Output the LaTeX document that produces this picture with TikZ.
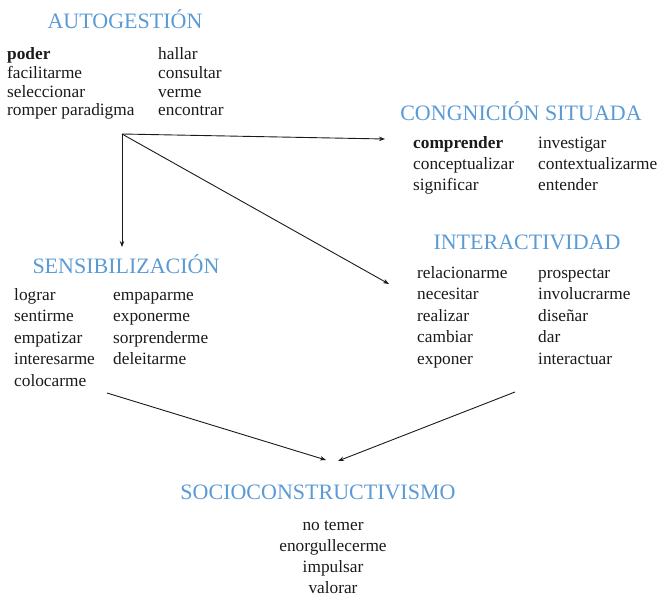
\documentclass[tikz,border=0pt]{standalone}
\usepackage{fontspec}
\setmainfont{Liberation Serif}
\usetikzlibrary{arrows.meta}
\definecolor{ttl}{HTML}{5B9BD5}
\definecolor{ink}{HTML}{1A1A1A}
\tikzset{
  word/.style={font=\fontsize{17.3}{20}\selectfont, text=ink, inner sep=0pt, anchor=base west},
  cword/.style={font=\fontsize{17.3}{20}\selectfont, text=ink, inner sep=0pt, anchor=base},
  title/.style={font=\fontsize{22}{26}\selectfont, text=ttl, inner sep=0pt},
  link/.style={draw=ink, line width=0.9pt, -{Stealth[length=6pt,width=4.5pt]}}
}
\begin{document}
\begin{tikzpicture}[x=1pt,y=-1pt]
\useasboundingbox (0,0) rectangle (664,599);
% titles
\node[title] (tA) at (125,19) {AUTOGESTIÓN};
\node[title] (tC) at (521,111) {CONGNICIÓN SITUADA};
\node[title] (tI) at (527,242) {INTERACTIVIDAD};
\node[title] (tS) at (126,264) {SENSIBILIZACIÓN};
\node[title] (tO) at (318,492) {SOCIOCONSTRUCTIVISMO};
% autogestion
\foreach \w [count=\i] in {{\textbf{poder}},facilitarme,seleccionar,romper paradigma}
  \node[word] (a\i) at ({7},{60+(\i-1)*18.6}) {\w};
\foreach \w [count=\i] in {hallar,consultar,verme,encontrar}
  \node[word] (b\i) at ({158},{60+(\i-1)*18.6}) {\w};
% cognicion
\foreach \w [count=\i] in {{\textbf{comprender}},conceptualizar,significar}
  \node[word] (c\i) at ({413},{149+(\i-1)*20.8}) {\w};
\foreach \w [count=\i] in {investigar,contextualizarme,entender}
  \node[word] (d\i) at ({538},{149+(\i-1)*20.8}) {\w};
% interactividad
\foreach \w [count=\i] in {relacionarme,necesitar,realizar,cambiar,exponer}
  \node[word] (e\i) at ({417},{278+(\i-1)*21.5}) {\w};
\foreach \w [count=\i] in {prospectar,involucrarme,diseñar,dar,interactuar}
  \node[word] (f\i) at ({538},{278+(\i-1)*21.5}) {\w};
% sensibilizacion
\foreach \w [count=\i] in {lograr,sentirme,empatizar,interesarme,colocarme}
  \node[word] (g\i) at ({14},{300+(\i-1)*21.6}) {\w};
\foreach \w [count=\i] in {empaparme,exponerme,sorprenderme,deleitarme}
  \node[word] (h\i) at ({113},{300+(\i-1)*21.6}) {\w};
% socioconstructivismo
\foreach \w [count=\i] in {no temer,enorgullecerme,impulsar,valorar}
  \node[cword] (s\i) at ({333},{530+(\i-1)*21.3}) {\w};
% connectors
\coordinate (hub) at (122,134);
\coordinate (toC) at (385,139);
\coordinate (toS) at (122,247);
\coordinate (toI) at (389,284);
\coordinate (fromS) at (107,393);
\coordinate (fromI) at (515,392);
\coordinate (intoL) at (326,460);
\coordinate (intoR) at (338,461);
\draw[link] (hub) -- (toC);
\draw[link] (hub) -- (toS);
\draw[link] (hub) -- (toI);
\draw[link] (fromS) -- (intoL);
\draw[link] (fromI) -- (intoR);
\end{tikzpicture}
\end{document}
